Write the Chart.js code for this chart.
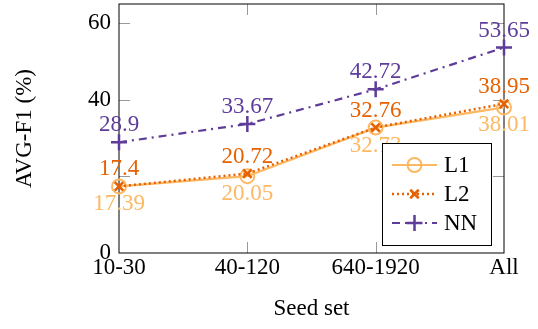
<!DOCTYPE html>
<html>
<head>
<meta charset="utf-8">
<script src="https://cdn.jsdelivr.net/npm/chart.js@4/dist/chart.umd.min.js"></script>
<style>
  html, body { margin: 0; padding: 0; background: #fff; }
</style>
</head>
<body>
<canvas id="f1Chart" width="538" height="329"></canvas>
<script>
// values
const seedSets = ["10-30", "40-120", "640-1920", "All"];
const l1Vals = [17.39, 20.05, 32.73, 38.01];
const l2Vals = [17.4, 20.72, 32.76, 38.95];
const nnVals = [28.9, 33.67, 42.72, 53.65];
const yTicks = [0, 20, 40, 60];
const yTickLabels = ["0", "", "40", "60"];

const serif = "'Liberation Serif', 'Times New Roman', serif";
const FONT = 23;

//draw value labels next to each point
const valueLabels = {
    id: "valueLabels",
    afterDatasetsDraw(chart) {
        let ctx = chart.ctx;
        ctx.save();
        ctx.font = FONT + "px " + serif;
        ctx.textAlign = "center";
        ctx.textBaseline = "middle";
        chart.data.datasets.forEach((ds, i) => {
            let meta = chart.getDatasetMeta(i);
            ctx.fillStyle = ds.borderColor;
            meta.data.forEach((pt, j) => {
                let dy = ds.labelPos == "below" ? 18 : -17;
                ctx.fillText(String(ds.data[j]), pt.x, pt.y + dy);
            });
        });
        ctx.restore();
    }
};

//box around the plot and little inward ticks
const frame = {
    id: "frame",
    beforeDatasetsDraw(chart) {
        let ctx = chart.ctx;
        let a = chart.chartArea;
        let xs = chart.scales.x, ys = chart.scales.y;
        ctx.save();
        ctx.strokeStyle = "#999";
        ctx.lineWidth = 1;
        ctx.beginPath();
        for (let i = 1; i < seedSets.length - 1; i++) {
            let px = Math.round(xs.getPixelForValue(i)) + 0.5;
            ctx.moveTo(px, a.bottom); ctx.lineTo(px, a.bottom - 11);
            ctx.moveTo(px, a.top); ctx.lineTo(px, a.top + 11);
        }
        yTicks.forEach(v => {
            if (v == 0) return;
            let py = Math.round(ys.getPixelForValue(v)) + 0.5;
            ctx.moveTo(a.left, py); ctx.lineTo(a.left + 11, py);
            ctx.moveTo(a.right, py); ctx.lineTo(a.right - 11, py);
        });
        ctx.stroke();
        ctx.strokeStyle = "#000";
        ctx.strokeRect(a.left, a.top, a.right - a.left, a.bottom - a.top);
        ctx.restore();
    }
};

//legend box in the lower right corner
const boxLegend = {
    id: "boxLegend",
    afterDraw(chart) {
        let ctx = chart.ctx;
        let bx = 382.5, by = 143.5, bw = 109, bh = 102;
        ctx.save();
        ctx.fillStyle = "#fff";
        ctx.fillRect(bx, by, bw, bh);
        ctx.strokeStyle = "#000";
        ctx.lineWidth = 1;
        ctx.strokeRect(bx, by, bw, bh);
        chart.data.datasets.forEach((ds, i) => {
            let y = 165 + i * 29;
            ctx.strokeStyle = ds.borderColor;
            ctx.lineWidth = ds.borderWidth;
            ctx.setLineDash(ds.borderDash || []);
            ctx.beginPath();
            ctx.moveTo(392, y);
            ctx.lineTo(437, y);
            ctx.stroke();
            ctx.setLineDash([]);
            ctx.fillStyle = "rgba(0,0,0,0)";
            ctx.lineWidth = ds.pointBorderWidth;
            Chart.helpers.drawPoint(ctx, {
                pointStyle: ds.pointStyle,
                radius: ds.pointRadius,
                rotation: 0,
                borderWidth: ds.pointBorderWidth
            }, 414.5, y);
            ctx.fillStyle = "#000";
            ctx.font = FONT + "px " + serif;
            ctx.textAlign = "left";
            ctx.textBaseline = "middle";
            ctx.fillText(ds.label, 444, y + 1);
        });
        ctx.restore();
    }
};

let ctx = document.getElementById("f1Chart").getContext("2d");

let chart = new Chart(ctx, {
    type: "line",
    data: {
        labels: seedSets,
        datasets: [{
            label: "L1",
            data: l1Vals,
            borderColor: "#fdb863",
            borderWidth: 2.2,
            pointStyle: "circle",
            pointRadius: 7,
            pointBorderWidth: 2,
            pointBackgroundColor: "rgba(0,0,0,0)",
            pointBorderColor: "#fdb863",
            labelPos: "below",
            order: 3,
            clip: false
        }, {
            label: "L2",
            data: l2Vals,
            borderColor: "#e66101",
            borderWidth: 2.5,
            borderDash: [2, 3],
            pointStyle: "crossRot",
            pointRadius: 6,
            pointBorderWidth: 2.5,
            pointBorderColor: "#e66101",
            labelPos: "above",
            order: 2,
            clip: false
        }, {
            label: "NN",
            data: nnVals,
            borderColor: "#5e3c99",
            borderWidth: 2.2,
            borderDash: [8, 5, 2, 5],
            pointStyle: "cross",
            pointRadius: 8,
            pointBorderWidth: 2.5,
            pointBorderColor: "#5e3c99",
            labelPos: "above",
            order: 1,
            clip: false
        }]
    },
    options: {
        responsive: false,
        animation: false,
        layout: {
            autoPadding: false,
            padding: { left: 0, top: 4, right: 34, bottom: 0 }
        },
        plugins: {
            legend: { display: false },
            tooltip: { enabled: false }
        },
        scales: {
            x: {
                type: "category",
                offset: false,
                grid: { display: false, drawTicks: false },
                border: { display: false },
                ticks: {
                    color: "#000",
                    padding: 1,
                    maxRotation: 0,
                    autoSkip: false,
                    font: { family: serif, size: FONT }
                },
                title: {
                    display: true,
                    text: "Seed set",
                    color: "#000",
                    padding: { top: 0, bottom: 6 },
                    font: { family: serif, size: FONT }
                },
                afterFit: s => {
                    s.height = 76;
                    s.paddingLeft = 0;
                    s.paddingRight = 0;
                }
            },
            y: {
                min: 0,
                max: 65,
                grid: { display: false, drawTicks: false },
                border: { display: false },
                afterBuildTicks: s => { s.ticks = yTicks.map(v => ({ value: v })); },
                ticks: {
                    color: "#000",
                    padding: 8,
                    font: { family: serif, size: FONT },
                    callback: v => yTickLabels[yTicks.indexOf(v)]
                },
                title: {
                    display: true,
                    text: "AVG-F1 (%)",
                    color: "#000",
                    padding: { top: 11, bottom: 0 },
                    font: { family: serif, size: FONT }
                },
                afterFit: s => {
                    s.width = 119;
                    s.paddingTop = 0;
                    s.paddingBottom = 0;
                }
            }
        }
    },
    plugins: [frame, valueLabels, boxLegend]
});
</script>
</body>
</html>
